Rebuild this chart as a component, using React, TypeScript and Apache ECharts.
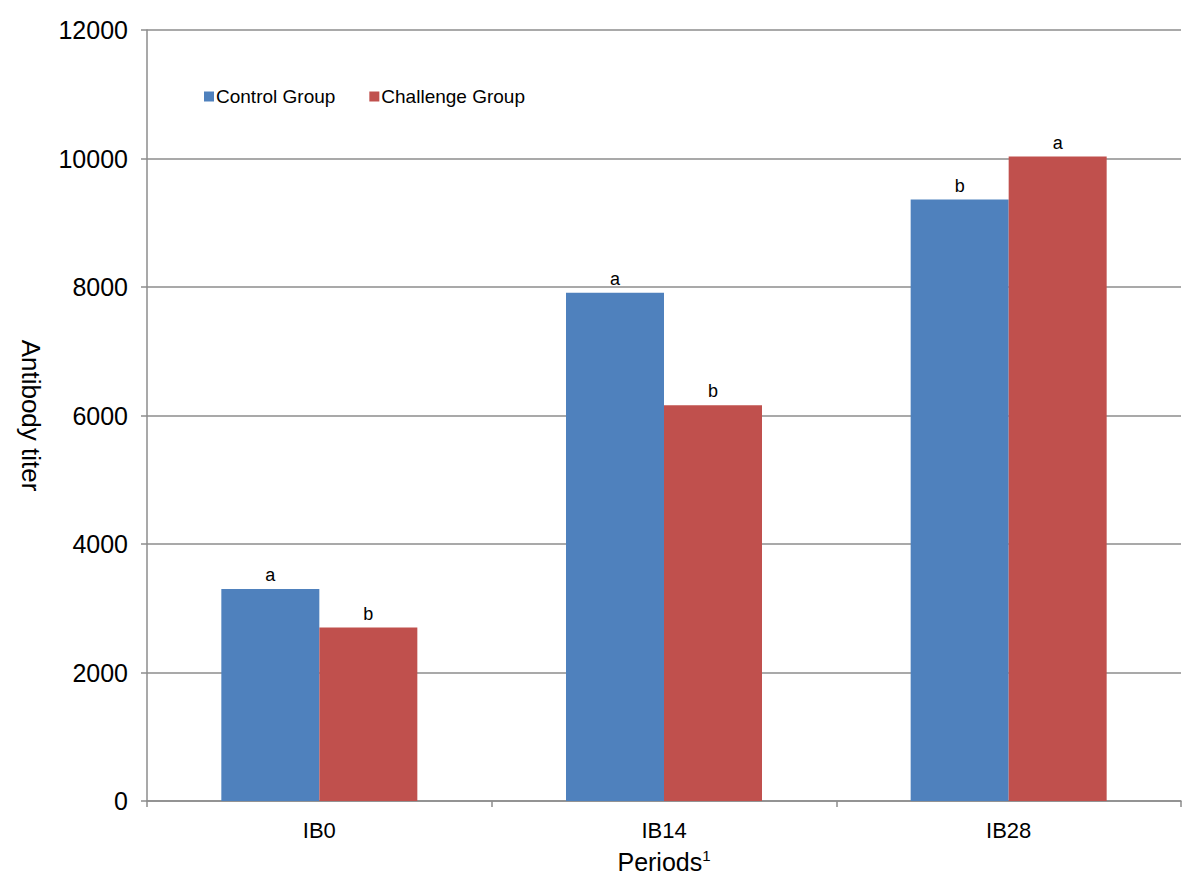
import React, { useEffect, useRef } from "react";
import * as echarts from "echarts";

const categories = ["IB0", "IB14", "IB28"];
const controlValues = [3300, 7910, 9360];
const challengeValues = [2700, 6160, 10030];
const controlLetters = ["a", "a", "b"];
const challengeLetters = ["b", "b", "a"];
const seriesNames = ["Control Group", "Challenge Group"];
const yTicks = [0, 2000, 4000, 6000, 8000, 10000, 12000];

const FONT = "'Liberation Sans', Arial, sans-serif";

export default function App() {
  const ref = useRef<HTMLDivElement>(null);
  useEffect(() => {
    if (!ref.current) return;
    const chart = echarts.init(ref.current, null, { renderer: "svg" });
    const mkLabel = (letters: string[]) => ({
      show: true,
      position: "top",
      distance: 5,
      color: "#000",
      fontFamily: FONT,
      fontSize: 18,
      formatter: (p: any) => letters[p.dataIndex],
    });
    chart.setOption({
      animation: false,
      backgroundColor: "#fff",
      textStyle: { fontFamily: FONT },
      grid: { left: 147, right: 19, top: 30, bottom: 77, containLabel: false, outerBoundsMode: "none" },
      legend: {
        data: seriesNames,
        left: 199,
        top: 82,
        itemWidth: 10,
        itemHeight: 10,
        itemGap: 34,
        icon: "rect",
        textStyle: { fontFamily: FONT, fontSize: 19, color: "#000", padding: [0, 0, 0, -3] },
      },
      xAxis: {
        type: "category",
        data: categories,
        name: "Periods{sup|1}",
        nameLocation: "middle",
        nameGap: 47,
        nameTextStyle: {
          fontFamily: FONT,
          fontSize: 25,
          color: "#000",
          rich: { sup: { fontFamily: FONT, fontSize: 15, color: "#000", verticalAlign: "top", padding: [0, 0, 12, 0] } },
        },
        axisLine: { show: true, lineStyle: { color: "#8c8c8c", width: 1.5 } },
        axisTick: { show: true, length: 6, lineStyle: { color: "#8c8c8c", width: 1.5 } },
        axisLabel: { fontFamily: FONT, fontSize: 22, color: "#000", margin: 18 },
      },
      yAxis: {
        type: "value",
        min: 0,
        max: 12000,
        interval: 2000,
        name: "Antibody titer",
        nameLocation: "middle",
        nameRotate: -90,
        nameGap: 103,
        nameTextStyle: { fontFamily: FONT, fontSize: 26, color: "#000" },
        axisLine: { show: true, lineStyle: { color: "#8c8c8c", width: 1.5 } },
        axisTick: { show: true, length: 6, lineStyle: { color: "#8c8c8c", width: 1.5 } },
        axisLabel: {
          fontFamily: FONT,
          fontSize: 25,
          color: "#000",
          margin: 19,
          formatter: (v: number) => (yTicks.includes(v) ? String(v) : ""),
        },
        splitLine: { show: true, lineStyle: { color: "#8c8c8c", width: 1.5 } },
      },
      series: [
        {
          name: seriesNames[0],
          type: "bar",
          data: controlValues,
          barWidth: 98,
          barGap: "0%",
          itemStyle: { color: "#4F81BD" },
          label: mkLabel(controlLetters),
        },
        {
          name: seriesNames[1],
          type: "bar",
          data: challengeValues,
          barWidth: 98,
          barGap: "0%",
          itemStyle: { color: "#C0504D" },
          label: mkLabel(challengeLetters),
        },
      ],
    });
    return () => chart.dispose();
  }, []);
  return <div ref={ref} style={{ width: 1200, height: 878, position: "absolute", left: 0, top: 0 }} />;
}
